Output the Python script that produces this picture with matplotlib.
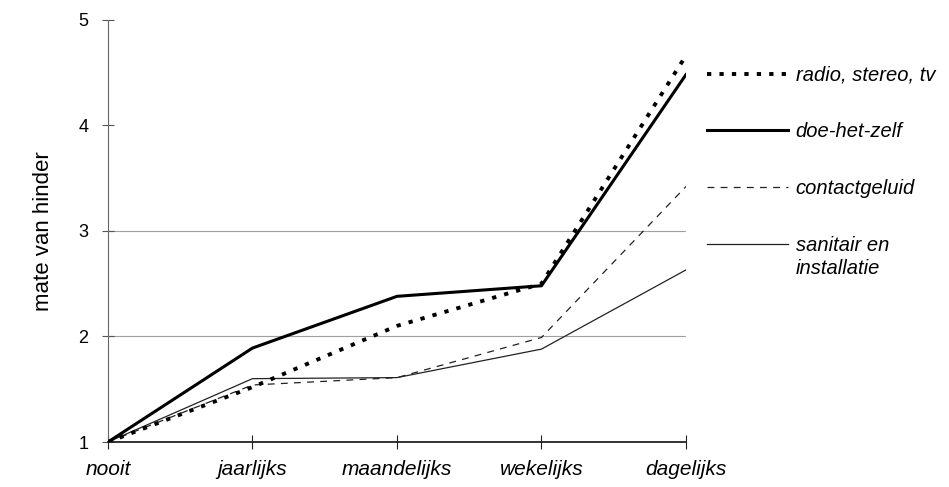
import matplotlib
matplotlib.use("Agg")
import matplotlib.pyplot as plt

categories = ["nooit", "jaarlijks", "maandelijks", "wekelijks", "dagelijks"]
radio = [1.0, 1.52, 2.10, 2.50, 4.66]
doe_het_zelf = [1.0, 1.89, 2.38, 2.48, 4.48]
contactgeluid = [1.0, 1.54, 1.61, 1.99, 3.42]
sanitair = [1.0, 1.60, 1.61, 1.88, 2.63]
labels = ["radio, stereo, tv", "doe-het-zelf", "contactgeluid", "sanitair en"]
label_extra = "installatie"
yticks = [1, 2, 3, 4, 5]

plt.rcParams['font.family'] = ['Liberation Sans', 'DejaVu Sans']

fig = plt.figure(figsize=(9.49, 4.87), dpi=100)
ax = fig.add_axes([0.1138, 0.0924, 0.609, 0.867])

x = list(range(len(categories)))
for g in [2, 3]:
    ax.axhline(g, color='#a0a0a0', lw=0.8, zorder=1)

ax.plot(x, sanitair, color='#222222', lw=0.9, zorder=3, label=labels[3])
ax.plot(x, contactgeluid, color='#222222', lw=0.9, dashes=(5.5, 5), zorder=3, label=labels[2])
ax.plot(x, doe_het_zelf, color='black', lw=2.2, zorder=4, label=labels[1])
ax.plot(x, radio, color='black', lw=2.8, dashes=(1.1, 2.1), zorder=5, label=labels[0])

ax.set_xlim(0, 4)
ax.set_ylim(1, 5)
ax.set_xticks(x)
ax.set_xticklabels(categories, fontstyle='italic', fontsize=15)
ax.set_yticks(yticks)
ax.set_yticklabels([str(v) for v in yticks], fontsize=13)
ax.tick_params(axis='y', direction='inout', length=8, width=0.8, color='#555555', pad=10)
ax.tick_params(axis='x', direction='inout', length=10, width=0.8, color='#222222', pad=8)

for s in ['top', 'right']:
    ax.spines[s].set_visible(False)
ax.spines['left'].set_color('#666666')
ax.spines['left'].set_linewidth(0.8)
ax.spines['bottom'].set_color('#222222')
ax.spines['bottom'].set_linewidth(1.3)

ax.set_ylabel("mate van hinder", fontsize=16, labelpad=18)

handles, labs = ax.get_legend_handles_labels()
order = [3, 2, 1, 0]
leg = ax.legend([handles[i] for i in order], [labs[i] for i in order],
                loc='upper left', bbox_to_anchor=(1.005, 0.934), frameon=False,
                prop={'style': 'italic', 'size': 14.5}, handlelength=4.0,
                handletextpad=0.4, labelspacing=1.87)

fig.canvas.draw()
last_text = leg.get_texts()[-1]
bb = last_text.get_window_extent().transformed(fig.transFigure.inverted())
fig.text(bb.x0, bb.y0 - 4 / fig.bbox.height, label_extra, ha='left', va='top',
         fontsize=14.5, fontstyle='italic')

fig.savefig("out.png", dpi=100, facecolor='white')
